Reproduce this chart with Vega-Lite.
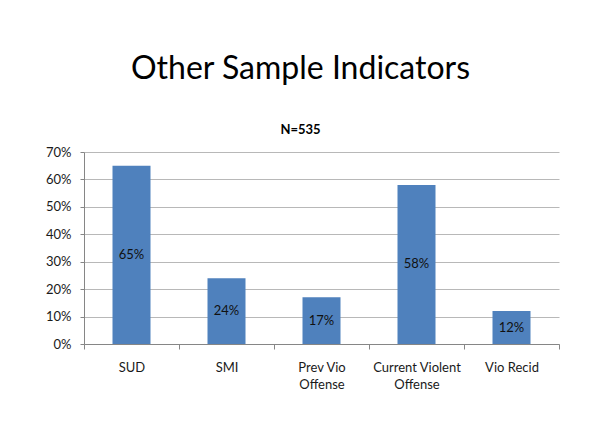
{
  "$schema": "https://vega.github.io/schema/vega-lite/v6.json",
  "autosize": "none",
  "width": 475,
  "height": 192,
  "padding": {"left": 84, "top": 152, "right": 35, "bottom": 101},
  "background": "white",
  "title": {
    "text": "Other Sample Indicators",
    "subtitle": "N=535",
    "anchor": "middle",
    "dx": -21,
    "offset": 8,
    "subtitlePadding": 38
  },
  "data": {
    "values": [
      {"cat": "SUD", "v": 0.65},
      {"cat": "SMI", "v": 0.24},
      {"cat": "Prev Vio Offense", "v": 0.17},
      {"cat": "Current Violent Offense", "v": 0.58},
      {"cat": "Vio Recid", "v": 0.12}
    ]
  },
  "encoding": {
    "x": {
      "field": "cat",
      "type": "nominal",
      "sort": null,
      "title": null,
      "scale": {"paddingInner": 0, "paddingOuter": 0},
      "axis": {
        "labelAngle": 0,
        "tickBand": "extent",
        "tickSize": 5,
        "labelPadding": 12,
        "labelLineHeight": 17,
        "labelExpr": "datum.label == 'Prev Vio Offense' ? ['Prev Vio', 'Offense'] : datum.label == 'Current Violent Offense' ? ['Current Violent', 'Offense'] : datum.label"
      }
    }
  },
  "layer": [
    {
      "mark": {"type": "bar", "color": "#4F81BD", "width": {"band": 0.4}},
      "encoding": {
        "y": {
          "field": "v",
          "type": "quantitative",
          "title": null,
          "scale": {"domain": [0, 0.7], "nice": false},
          "axis": {
            "values": [0, 0.1, 0.2, 0.3, 0.4, 0.5, 0.6, 0.7],
            "format": ".0%",
            "tickSize": 4,
            "labelPadding": 9,
            "grid": true
          }
        }
      }
    },
    {
      "mark": {"type": "text", "baseline": "middle", "align": "center", "color": "#111111", "font": "Lato", "fontSize": 13},
      "encoding": {
        "y": {
          "field": "v",
          "type": "quantitative",
          "scale": {"domain": [0, 1.4], "nice": false},
          "axis": null
        },
        "text": {"field": "v", "type": "quantitative", "format": ".0%"}
      }
    }
  ],
  "resolve": {"scale": {"y": "independent"}},
  "config": {
    "view": {"stroke": null},
    "font": "Lato",
    "title": {
      "font": "Lato",
      "fontSize": 32,
      "fontWeight": "normal",
      "color": "#000000",
      "subtitleFont": "Lato",
      "subtitleFontSize": 13,
      "subtitleFontWeight": "bold",
      "subtitleColor": "#000000"
    },
    "axis": {
      "labelFont": "Lato",
      "labelFontSize": 13,
      "labelColor": "#1a1a1a",
      "domainColor": "#868686",
      "tickColor": "#868686",
      "gridColor": "#b8b8b8",
      "gridWidth": 1
    },
    "axisX": {"grid": false}
  }
}
